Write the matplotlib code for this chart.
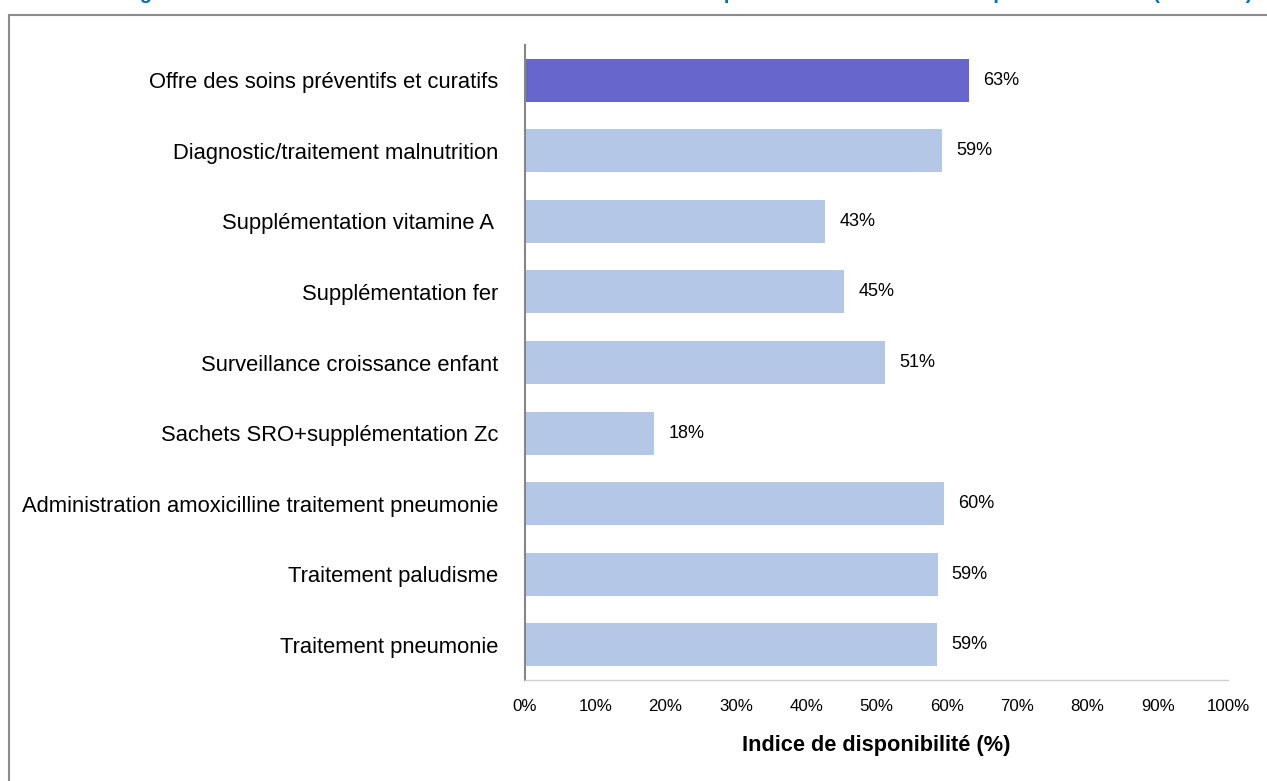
import matplotlib.pyplot as plt
from matplotlib.patches import Rectangle

plt.rcParams['font.family'] = ['Liberation Sans', 'DejaVu Sans']

# Data (top to bottom)
categories = [
    "Offre des soins préventifs et curatifs",
    "Diagnostic/traitement malnutrition",
    "Supplémentation vitamine A ",
    "Supplémentation fer",
    "Surveillance croissance enfant",
    "Sachets SRO+supplémentation Zc",
    "Administration amoxicilline traitement pneumonie",
    "Traitement paludisme",
    "Traitement pneumonie",
]
values = [63.2, 59.3, 42.7, 45.4, 51.2, 18.4, 59.6, 58.7, 58.6]
highlight = [True, False, False, False, False, False, False, False, False]

title = ("Figure 3.17 : Indice des services de santé infantile et néonatale "
         "préventifs et curatifs offerts pour les enfants (N=11 136)")

W, H = 1267, 781
fig = plt.figure(figsize=(W / 100, H / 100), dpi=100)

# grey frame around the chart, cut by the right and bottom image edges
fig.patches.append(Rectangle((9 / W, -0.1), 1.0, 1.1 - 15 / H, transform=fig.transFigure,
                             fill=False, edgecolor="#8c8c8c", linewidth=1.5))

# title sits above the image, only its descenders show
fig.text(122 / W, 1 + 1.0 / H, title, ha="left", va="baseline",
         fontsize=14.4, fontweight="bold", color="#0070C0")

ax = fig.add_axes([525 / W, 1 - 680 / H, 703 / W, 635 / H])

y = list(range(len(categories)))
colors = ["#6666CC" if h else "#B4C7E7" for h in highlight]
ax.barh(y, values, height=0.61, color=colors)

for yi, v in zip(y, values):
    ax.text(v + 2.0, yi, f"{round(v)}%", va="center", ha="left", fontsize=13)

ax.set_yticks(y)
ax.set_yticklabels(categories, fontsize=15.8)
ax.set_ylim(len(categories) - 0.5, -0.5)

ax.set_xlim(0, 100)
ax.set_xticks(range(0, 101, 10))
ax.set_xticklabels([f"{t}%" for t in range(0, 101, 10)], fontsize=12.2)
ax.set_xlabel("Indice de disponibilité (%)", fontsize=15.7, fontweight="bold", labelpad=15)

ax.tick_params(axis="y", length=0, pad=19)
ax.tick_params(axis="x", length=0, pad=14)

for s in ["top", "right"]:
    ax.spines[s].set_visible(False)
ax.spines["left"].set_color("#868686")
ax.spines["left"].set_linewidth(1.5)
ax.spines["bottom"].set_color("#D0D0D0")
ax.spines["bottom"].set_linewidth(1)

fig.savefig("out.png", dpi=100)
